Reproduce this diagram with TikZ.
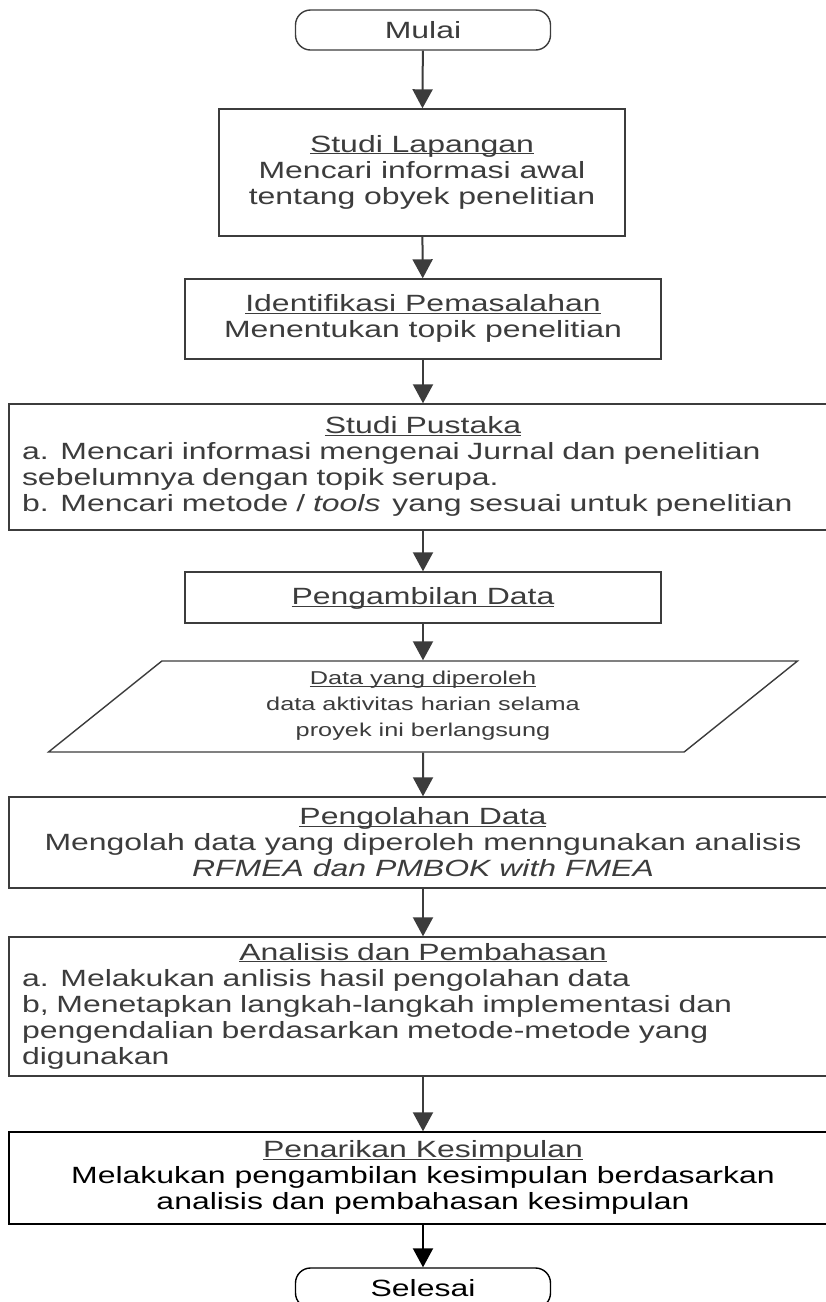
\documentclass[tikz,border=0pt]{standalone}
\usepackage{fontspec}
\setmainfont{Liberation Sans}[FakeStretch=1.36]
\usetikzlibrary{arrows.meta,shapes.geometric}
\definecolor{ink}{HTML}{3C3C3C}
\newcommand{\ttl}[1]{\underline{\vphantom{A}\smash{#1}}}

\begin{document}
\begin{tikzpicture}[x=1pt,y=-1pt,
    box/.style={draw=ink,line width=1.4pt,fill=white,text=ink,align=center,inner sep=0pt,font=\fontsize{23.5}{26}\selectfont},
    term/.style={box,rounded corners=15pt,minimum width=255pt,minimum height=40pt},
    wide/.style={box,minimum width=828pt},
    lwide/.style={wide,align=left,text width=802pt,inner xsep=13pt},
    flow/.style={draw=ink,line width=2pt,-{Triangle[length=19pt,width=20pt]}}]
    \useasboundingbox (0,0) rectangle (826,1302);

    \node[term] (mulai) at (423,30) {Mulai};
    \node[box,minimum width=406pt,minimum height=127pt] (lapangan) at (422,172.5)
        {\ttl{Studi Lapangan}\\Mencari informasi awal\\tentang obyek penelitian};
    \node[box,minimum width=476pt,minimum height=80pt] (identifikasi) at (423,319)
        {\ttl{Identifikasi Pemasalahan}\\Menentukan topik penelitian};
    \node[lwide,minimum height=126pt] (pustaka) at (423,467)
        {\makebox[\linewidth]{\ttl{Studi Pustaka}}\\
         a. Mencari informasi mengenai Jurnal dan penelitian\\
         sebelumnya dengan topik serupa.\\
         b. Mencari metode / \textit{tools}\, yang sesuai untuk penelitian};
    \node[box,minimum width=476pt,minimum height=51pt] (ambil) at (423,597.5)
        {\ttl{Pengambilan Data}};
    \node[box,trapezium,trapezium left angle=31.2,trapezium right angle=148.8,
        trapezium stretches body,minimum width=749pt,minimum height=91pt,
        font=\fontsize{18.6}{26}\selectfont] (data) at (423,706.5)
        {\ttl{Data yang diperoleh}\\data aktivitas harian selama\\proyek ini berlangsung};
    \node[wide,minimum height=91pt] (olah) at (423,842.5)
        {\ttl{Pengolahan Data}\\Mengolah data yang diperoleh menngunakan analisis\\
         \textit{RFMEA dan PMBOK with FMEA}};
    \node[lwide,minimum height=139pt] (analisis) at (423,1006.5)
        {\makebox[\linewidth]{\ttl{Analisis dan Pembahasan}}\\
         a. Melakukan anlisis hasil pengolahan data\\
         b, Menetapkan langkah-langkah implementasi dan\\
         pengendalian berdasarkan metode-metode yang\\
         digunakan};
    \node[wide,draw=black,text=black,minimum height=92pt] (tarik) at (423,1178)
        {\textcolor{ink}{\ttl{Penarikan Kesimpulan}}\\
         Melakukan pengambilan kesimpulan berdasarkan\\
         analisis dan pembahasan kesimpulan};
    \node[term,draw=black,text=black] (selesai) at (423,1288) {Selesai};

    \draw[flow] (mulai) -- (lapangan);
    \draw[flow] (lapangan) -- (identifikasi);
    \draw[flow] (identifikasi) -- (pustaka);
    \draw[flow] (pustaka) -- (ambil);
    \draw[flow] (ambil) -- (data);
    \draw[flow] (data) -- (olah);
    \draw[flow] (olah) -- (analisis);
    \draw[flow] (analisis) -- (tarik);
    \draw[flow,draw=black] (tarik) -- (selesai);
\end{tikzpicture}
\end{document}
